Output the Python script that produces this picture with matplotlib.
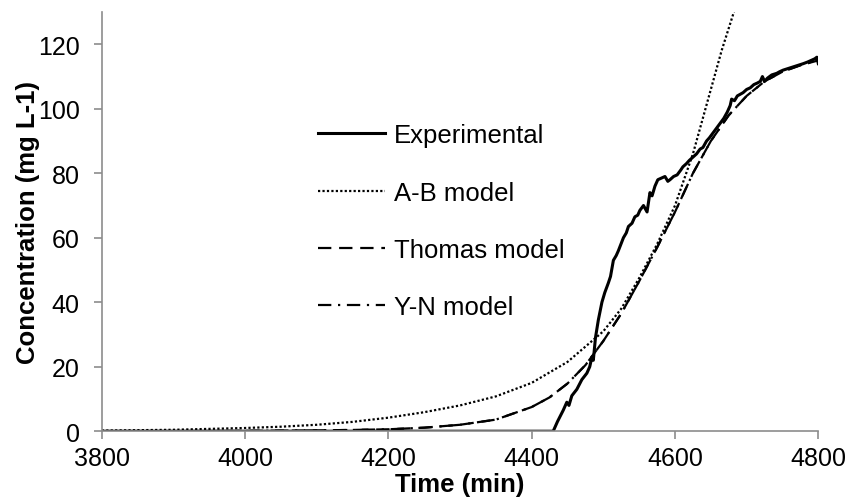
import matplotlib
matplotlib.use("Agg")
import matplotlib.pyplot as plt

plt.rcParams['font.family'] = ['Liberation Sans', 'DejaVu Sans']

exp_t = [3800, 4430, 4436, 4444, 4449, 4452, 4456, 4463, 4470, 4477, 4481, 4484, 4486,
         4489, 4493, 4498, 4502, 4507, 4510, 4514, 4518, 4521, 4528, 4532, 4535, 4540,
         4544, 4548, 4551, 4556, 4561, 4565, 4568, 4572, 4576, 4581, 4586, 4590, 4593,
         4598, 4603, 4608, 4611, 4616, 4620, 4625, 4630, 4635, 4639, 4644, 4648, 4653,
         4658, 4663, 4668, 4673, 4677, 4679, 4683, 4687, 4691, 4695, 4700, 4705, 4710,
         4715, 4719, 4722, 4725, 4729, 4735, 4742, 4746, 4751, 4758, 4765, 4772, 4779,
         4785, 4790, 4795, 4798, 4800]
exp_c = [0, 0, 3, 6.5, 9, 8, 11, 13, 16, 18, 20, 23, 22,
         29, 34.5, 40, 43, 46, 48, 53, 54.5, 56, 60, 61.5, 63.5, 64.5,
         66.5, 67, 68.5, 70, 68, 74, 73, 76, 78, 78.5, 79, 77.5, 78,
         79, 79.5, 81, 82, 83, 84, 85, 86, 87.5, 88, 90, 91, 92.5,
         94, 95.5, 97, 99, 101, 103, 102.5, 104, 104.5, 105, 106, 106.5, 107.5,
         108, 108.5, 110, 108.5, 109.5, 110.5, 111, 111.5, 112, 112.5, 113, 113.5, 114,
         114.5, 115, 115.5, 116, 114]

# Adams-Bohart model
ab_t = [3800, 3900, 4000, 4050, 4100, 4150, 4200, 4250, 4300, 4350, 4400, 4450,
        4500, 4525, 4550, 4575, 4600, 4625, 4650, 4665, 4685]
ab_c = [0.2, 0.45, 1.0, 1.4, 2.0, 2.9, 4.2, 5.9, 8.0, 10.8, 15.0, 21.5,
        31, 38, 47.5, 58, 70, 86, 106, 118, 132]

# Thomas model
th_t = [3800, 3900, 4000, 4100, 4150, 4200, 4250, 4300, 4350, 4400, 4425, 4450, 4475,
        4500, 4525, 4550, 4575, 4600, 4625, 4650, 4675, 4700, 4725, 4750, 4775, 4800]
th_c = [0, 0.02, 0.1, 0.25, 0.4, 0.6, 1.1, 2.0, 3.6, 7.5, 10.5, 14.8, 20.5,
        28, 36.5, 46.5, 57, 68, 80, 90, 98, 104, 108.5, 111.5, 113.5, 115]

# Yoon-Nelson model
yn_t = th_t
yn_c = [0, 0.02, 0.1, 0.25, 0.4, 0.6, 1.1, 2.0, 3.6, 7.5, 10.5, 14.8, 20.5,
        28, 36.5, 46.5, 57, 68, 80, 90, 98, 104, 108.5, 111.5, 113.5, 115]

fig = plt.figure(figsize=(8.48, 5.02), dpi=100)
ax = fig.add_axes([0.120, 0.139, 0.845, 0.835])

ax.plot(exp_t, exp_c, color='black', lw=2.2, label='Experimental')
ax.plot(ab_t, ab_c, color='black', lw=1.6, linestyle=(0, (1, 1)), label='A-B model')
ax.plot(th_t, th_c, color='black', lw=1.6, linestyle=(0, (6, 3.5)), label='Thomas model')
ax.plot(yn_t, yn_c, color='black', lw=1.6, linestyle=(0, (6, 3, 1, 3)), label='Y-N model')

ax.set_xlim(3800, 4800)
ax.set_ylim(0, 130)
ax.set_xticks(range(3800, 4801, 200))
ax.set_yticks(range(0, 121, 20))

for s in ['top', 'right']:
    ax.spines[s].set_visible(False)
for s in ['left', 'bottom']:
    ax.spines[s].set_color('#8c8c8c')
    ax.spines[s].set_linewidth(1.2)
ax.tick_params(colors='#8c8c8c', labelcolor='black', labelsize=18, length=6, width=1.2)
ax.tick_params(axis='y', pad=10)
ax.tick_params(axis='x', pad=5)

ax.set_xlabel('Time (min)', fontsize=18.5, fontweight='bold', labelpad=1)
ax.set_ylabel('Concentration (mg L-1)', fontsize=18.5, fontweight='bold', labelpad=-2)

ax.legend(loc='upper left', bbox_to_anchor=(0.302, 0.735), frameon=False, fontsize=18.5,
          handlelength=2.6, handletextpad=0.35, labelspacing=1.3,
          borderpad=0, borderaxespad=0)

fig.savefig('out.png', dpi=100)
